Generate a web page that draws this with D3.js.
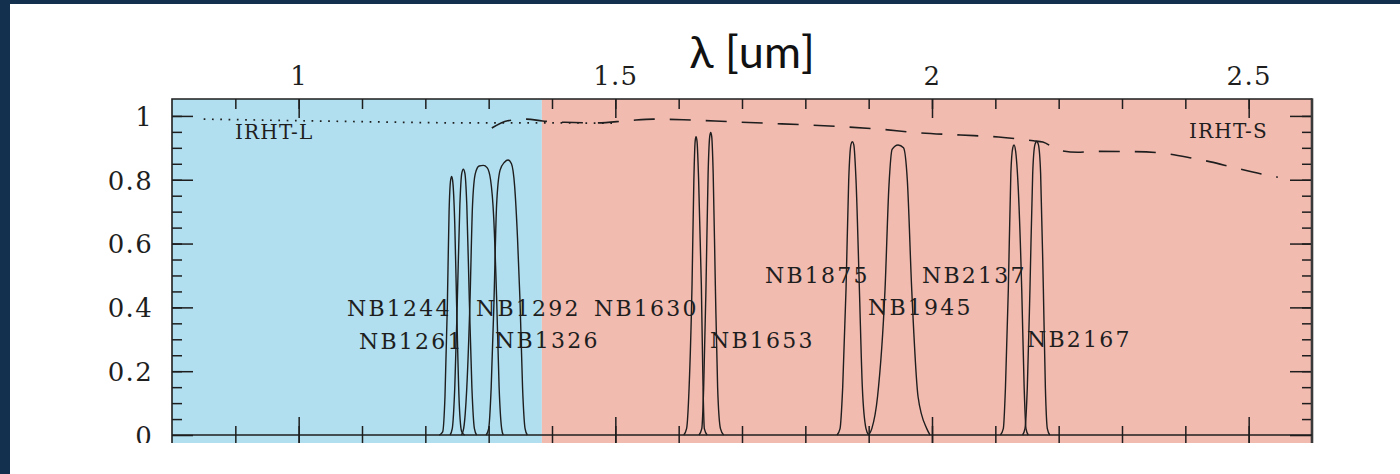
<!DOCTYPE html>
<html>
<head>
<meta charset="utf-8">
<script src="https://cdn.jsdelivr.net/npm/d3@7"></script>
<style>
  html, body { margin: 0; padding: 0; background: #fff; }
  svg { display: block; }
</style>
</head>
<body>
<svg id="chart" width="1400" height="474"></svg>
<script>
// ---- Data -------------------------------------------------------------
// Wavelength ranges (μm) covered by the two order-sorting filters
const bandNames = ["IRHT-L", "IRHT-S"];
const bandEdges = [0.8, 1.384, 2.6];

// Narrow-band filter transmission curves: [wavelength (μm), transmission]
const nb1244 = [[1.222,0],[1.2274,0.01],[1.231,0.12],[1.2347,0.40],[1.2375,0.70],[1.2400,0.80],[1.2416,0.81],[1.2435,0.79],[1.2465,0.66],[1.2495,0.40],[1.2535,0.10],[1.2575,0.01],[1.262,0]];
const nb1261 = [[1.239,0],[1.2425,0.02],[1.2465,0.15],[1.2505,0.42],[1.2545,0.72],[1.2575,0.82],[1.2600,0.833],[1.2625,0.82],[1.2655,0.72],[1.2695,0.42],[1.2735,0.15],[1.2775,0.02],[1.281,0]];
const nb1292 = [[1.257,0],[1.2605,0.02],[1.2655,0.15],[1.2705,0.42],[1.2745,0.72],[1.2790,0.82],[1.2850,0.843],[1.2916,0.845],[1.2975,0.838],[1.3030,0.80],[1.3080,0.68],[1.3127,0.42],[1.3165,0.15],[1.3205,0.02],[1.323,0]];
const nb1326 = [[1.296,0],[1.300,0.02],[1.304,0.15],[1.3084,0.42],[1.3125,0.72],[1.3180,0.83],[1.3250,0.855],[1.3306,0.862],[1.3360,0.85],[1.3410,0.78],[1.3455,0.62],[1.3495,0.42],[1.3535,0.15],[1.3575,0.02],[1.361,0]];
const nb1630 = [[1.608,0],[1.6125,0.02],[1.6165,0.15],[1.6211,0.47],[1.6240,0.80],[1.6260,0.92],[1.6274,0.935],[1.6290,0.92],[1.6315,0.80],[1.6358,0.47],[1.6385,0.15],[1.6405,0.02],[1.645,0]];
const nb1653 = [[1.632,0],[1.6365,0.02],[1.6395,0.15],[1.6432,0.47],[1.6465,0.82],[1.6490,0.935],[1.6506,0.948],[1.6522,0.935],[1.6545,0.82],[1.6579,0.47],[1.6615,0.15],[1.6660,0.02],[1.671,0]];
const nb1875 = [[1.850,0],[1.8548,0.02],[1.8590,0.15],[1.8643,0.46],[1.8685,0.80],[1.8720,0.91],[1.8742,0.919],[1.8765,0.91],[1.8800,0.80],[1.8853,0.46],[1.8900,0.15],[1.8958,0.02],[1.900,0]];
const nb1945 = [[1.900,0],[1.905,0.02],[1.914,0.12],[1.9258,0.455],[1.9320,0.78],[1.9370,0.895],[1.9464,0.909],[1.9550,0.90],[1.9610,0.80],[1.9680,0.455],[1.9780,0.12],[1.9917,0.02],[1.997,0]];
const nb2137 = [[2.108,0],[2.1126,0.02],[2.1160,0.15],[2.1205,0.455],[2.1245,0.82],[2.1275,0.90],[2.1295,0.909],[2.1320,0.89],[2.1360,0.78],[2.1417,0.455],[2.1455,0.15],[2.1484,0.02],[2.152,0]];
const nb2167 = [[2.143,0],[2.1468,0.02],[2.1505,0.15],[2.1547,0.46],[2.1590,0.82],[2.1625,0.91],[2.1653,0.92],[2.1680,0.91],[2.1715,0.82],[2.1758,0.46],[2.1790,0.15],[2.1821,0.02],[2.186,0]];

const filterNames  = ["NB1244","NB1261","NB1292","NB1326","NB1630","NB1653","NB1875","NB1945","NB2137","NB2167"];
const filterCurves = [nb1244, nb1261, nb1292, nb1326, nb1630, nb1653, nb1875, nb1945, nb2137, nb2167];

// Order-sorting filter transmission
const irhtL = [[0.85,0.990],[1.00,0.985],[1.10,0.982],[1.20,0.979],[1.30,0.978],[1.40,0.978],[1.50,0.977]];
const irhtS = [[1.305,0.962],[1.330,0.985],[1.360,0.990],[1.385,0.984],[1.420,0.980],[1.470,0.978],[1.520,0.985],[1.560,0.990],[1.620,0.987],[1.680,0.982],[1.740,0.977],[1.800,0.972],[1.860,0.966],[1.920,0.958],[1.980,0.947],[2.045,0.940],[2.105,0.934],[2.160,0.922],[2.175,0.918],[2.200,0.893],[2.230,0.886],[2.260,0.889],[2.320,0.888],[2.365,0.883],[2.410,0.868],[2.440,0.856],[2.475,0.839],[2.520,0.818],[2.546,0.808]];

// Annotation anchors, in data units: [wavelength, transmission]
const filterLabelAt = [[1.0763,0.373],[1.0953,0.270],[1.2800,0.373],[1.3100,0.273],[1.4663,0.373],[1.6495,0.273],[1.7363,0.4765],[1.8990,0.376],[1.9842,0.4765],[2.1500,0.276]];
const bandLabelAt   = [[0.8995,0.928],[2.4058,0.931]];

// Axis ticks
const xMajorTicks = [1, 1.5, 2, 2.5];
const xMinorTicks = [0.9,1.0,1.1,1.2,1.3,1.4,1.5,1.6,1.7,1.8,1.9,2.0,2.1,2.2,2.3,2.4,2.5];
const yMajorTicks = [0, 0.2, 0.4, 0.6, 0.8, 1];
const yMinorTicks = [0.05,0.1,0.15,0.2,0.25,0.3,0.35,0.4,0.45,0.5,0.55,0.6,0.65,0.7,0.75,0.8,0.85,0.9,0.95,1.0];
const xTitle = "λ [um]";

// ---- Layout & styles -----------------------------------------------------
const W = 1400, H = 474;
const plot = { left: 172, right: 1312, top: 99, bottom: 443 };
const bandColors = ["#b1dff0", "#f2bbb0"];
const ink = "#1e1e1e";
const serif = "'DejaVu Serif', serif";

const svg = d3.select("#chart");

const x = d3.scaleLinear().domain([0.8, 2.6]).range([plot.left, plot.right]);
const y = d3.scaleLinear().domain([-0.025, 1.053]).range([plot.bottom, plot.top]);

svg.append("rect").attr("width", W).attr("height", H).attr("fill", "#fff");

// the figure is cut off just below the zero line
svg.append("clipPath").attr("id", "cut")
  .append("rect").attr("x", 0).attr("y", 0).attr("width", W).attr("height", plot.bottom);

const g = svg.append("g").attr("clip-path", "url(#cut)");

// shaded wavelength bands
g.selectAll("rect.band")
  .data(bandNames)
  .join("rect")
  .attr("class", "band")
  .attr("x", (d, i) => x(bandEdges[i]))
  .attr("width", (d, i) => x(bandEdges[i + 1]) - x(bandEdges[i]))
  .attr("y", plot.top)
  .attr("height", plot.bottom - plot.top + 2)
  .attr("fill", (d, i) => bandColors[i]);

// ---- Axes -----------------------------------------------------------------
function styleAxis(sel) {
  sel.select(".domain").remove();
  sel.selectAll(".tick line").attr("stroke", ink).attr("stroke-width", 1.5);
  sel.selectAll(".tick text")
    .attr("fill", ink)
    .style("font-family", serif)
    .style("font-size", "26px")
    .style("letter-spacing", "1.3px");
}

// top axis: ticks pointing into the plot, labelled majors
g.append("g").attr("transform", `translate(0,${plot.top})`)
  .call(d3.axisTop(x).tickValues(xMinorTicks).tickSize(-10).tickFormat(""))
  .call(styleAxis);
g.append("g").attr("transform", `translate(0,${plot.top})`)
  .call(d3.axisTop(x).tickValues(xMajorTicks).tickSize(-19).tickPadding(14).tickFormat(d => String(d)))
  .call(styleAxis);

// bottom ticks rising from the lower edge
g.append("g").attr("transform", `translate(0,${plot.bottom})`)
  .call(d3.axisTop(x).tickValues(xMinorTicks).tickSize(17).tickFormat(""))
  .call(styleAxis);
g.append("g").attr("transform", `translate(0,${plot.bottom})`)
  .call(d3.axisTop(x).tickValues(xMajorTicks).tickSize(26).tickFormat(""))
  .call(styleAxis);

// left axis
g.append("g").attr("transform", `translate(${plot.left},0)`)
  .call(d3.axisLeft(y).tickValues(yMinorTicks).tickSize(-10).tickFormat(""))
  .call(styleAxis);
g.append("g").attr("transform", `translate(${plot.left},0)`)
  .call(d3.axisLeft(y).tickValues(yMajorTicks).tickSize(-21).tickPadding(19).tickFormat(d => String(d)))
  .call(styleAxis)
  .call(s => s.selectAll(".tick text").attr("dy", "0.36em"));

// right axis
g.append("g").attr("transform", `translate(${plot.right},0)`)
  .call(d3.axisLeft(y).tickValues(yMinorTicks).tickSize(10).tickFormat(""))
  .call(styleAxis);
g.append("g").attr("transform", `translate(${plot.right},0)`)
  .call(d3.axisLeft(y).tickValues(yMajorTicks).tickSize(22).tickFormat(""))
  .call(styleAxis);

// frame and zero line
g.append("path")
  .attr("d", `M${plot.left},${plot.bottom + 2}V${plot.top}H${plot.right}`)
  .attr("fill", "none").attr("stroke", ink).attr("stroke-width", 1.6);
g.append("line")
  .attr("x1", plot.right).attr("x2", plot.right)
  .attr("y1", plot.top - 0.8).attr("y2", plot.bottom + 2)
  .attr("stroke", "#3a3a3a").attr("stroke-width", 2.6);
g.append("line")
  .attr("x1", plot.left).attr("x2", plot.right)
  .attr("y1", y(0)).attr("y2", y(0))
  .attr("stroke", ink).attr("stroke-width", 1.6);

// ---- Curves ---------------------------------------------------------------
const line = d3.line()
  .x(d => x(d[0]))
  .y(d => y(d[1]))
  .curve(d3.curveMonotoneX);

g.selectAll("path.filter")
  .data(filterCurves)
  .join("path")
  .attr("class", "filter")
  .attr("d", line)
  .attr("fill", "none")
  .attr("stroke", ink)
  .attr("stroke-width", 1.4);

g.append("path").datum(irhtL)
  .attr("d", line)
  .attr("fill", "none").attr("stroke", ink).attr("stroke-width", 1.7)
  .attr("stroke-dasharray", "1.7 6.6");

g.append("path").datum(irhtS)
  .attr("d", line)
  .attr("fill", "none").attr("stroke", ink).attr("stroke-width", 1.6)
  .attr("stroke-dasharray", "21 15");

// ---- Labels ---------------------------------------------------------------
g.selectAll("text.nb")
  .data(filterNames)
  .join("text")
  .attr("class", "nb")
  .attr("x", (d, i) => x(filterLabelAt[i][0]))
  .attr("y", (d, i) => y(filterLabelAt[i][1]))
  .attr("fill", ink)
  .style("font-family", serif)
  .style("font-size", "22px")
  .style("letter-spacing", "2.2px")
  .text(d => d);

g.selectAll("text.band")
  .data(bandNames)
  .join("text")
  .attr("class", "band")
  .attr("x", (d, i) => x(bandLabelAt[i][0]))
  .attr("y", (d, i) => y(bandLabelAt[i][1]))
  .attr("fill", ink)
  .style("font-family", serif)
  .style("font-size", "20px")
  .style("letter-spacing", "1.2px")
  .text(d => d);

// axis title
svg.append("text")
  .attr("x", 752).attr("y", 68)
  .attr("text-anchor", "middle")
  .attr("fill", "#111")
  .style("font-family", "Lato, 'Open Sans', sans-serif")
  .style("font-size", "45px")
  .text(xTitle);

// dark slide edge along the top and left
svg.append("rect").attr("x", 0).attr("y", 0).attr("width", W).attr("height", 4).attr("fill", "#13304f");
svg.append("rect").attr("x", 0).attr("y", 0).attr("width", 10).attr("height", H).attr("fill", "#13304f");
</script>
</body>
</html>
